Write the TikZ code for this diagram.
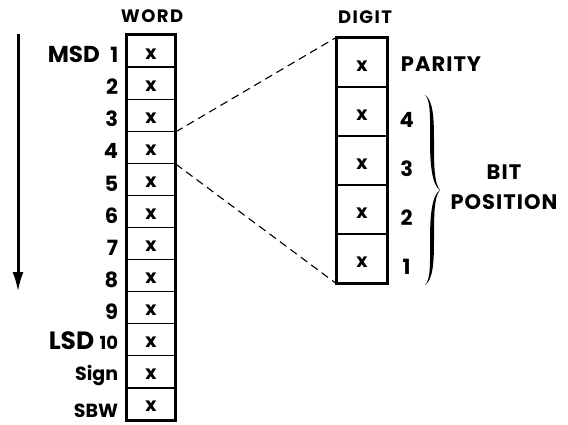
\documentclass[tikz,border=0pt]{standalone}
\usepackage{fontspec}
\setmainfont{Poppins}
\usetikzlibrary{arrows.meta}
\newcommand{\spaced}[1]{\addfontfeature{LetterSpace=#1}}
\newcommand{\cellmark}[1]{\raisebox{#1}[0pt][0pt]{x}}
\tikzset{
  head/.style={inner sep=0pt, font=\bfseries\fontsize{18}{20}\selectfont\spaced{8}},
  lbl/.style={inner sep=0pt, font=\bfseries\fontsize{21}{24}\selectfont\spaced{5}},
  numlbl/.style={inner sep=0pt, font=\bfseries\fontsize{21}{24}\selectfont},
  biglbl/.style={inner sep=0pt, font=\bfseries\fontsize{23}{26}\selectfont},
  lsdlbl/.style={inner sep=0pt, font=\bfseries\fontsize{25}{28}\selectfont},
  smalllbl/.style={inner sep=0pt, font=\bfseries\fontsize{19}{21}\selectfont},
  tenlbl/.style={inner sep=0pt, font=\bfseries\fontsize{18}{20}\selectfont},
  wcell/.style={draw, line width=1.3pt, minimum width=48pt, minimum height=32.08pt,
    inner sep=0pt, font=\bfseries\fontsize{19}{20}\selectfont},
  dcell/.style={draw, line width=1.3pt, minimum width=50pt, minimum height=49pt,
    inner sep=0pt, font=\bfseries\fontsize{19}{20}\selectfont},
  frame/.style={draw, line width=2pt},
  zoomline/.style={dashed, dash pattern=on 8pt off 5pt, line width=1.1pt},
}
\begin{document}
\begin{tikzpicture}[x=1pt,y=-1pt]
\useasboundingbox (0,0) rectangle (568,424);

% word column: twelve cells
\foreach \i in {1,...,12} {
  \node[wcell] (w\i) at (151, {35+32.08*(\i-0.5)}) {\cellmark{-8pt}};
}
\draw[frame] (w1.north west) rectangle (w12.south east);

% digit column: five cells
\foreach \i in {1,...,5} {
  \node[dcell] (d\i) at (362, {38+49*(\i-0.5)}) {\cellmark{-9pt}};
}
\draw[frame] (d1.north west) rectangle (d5.south east);

% headings
\node[head] (word) at (152,16) {WORD};
\node[head] (digit) at (365,17) {DIGIT};

% row numbers of the word (set a little below the row centres)
\foreach \i in {1,...,9} {
  \node[numlbl, anchor=east] (n\i) at ([xshift=-8pt,yshift=-4pt]w\i.west) {\i};
}
\node[tenlbl, anchor=east] (n10) at ([xshift=-8pt,yshift=-3pt]w10.west) {10};
\node[lsdlbl, anchor=east] (lsd) at ([xshift=-5pt,yshift=2pt]n10.west) {LSD};
\node[biglbl, anchor=east] (msd) at ([xshift=-10pt,yshift=1pt]n1.west) {MSD};
\node[smalllbl, anchor=east] (sign) at ([xshift=-8pt,yshift=-4pt]w11.west) {Sign};
\node[smalllbl, anchor=east] (sbw) at ([xshift=-8pt,yshift=-7pt]w12.west) {SBW};

% digit labels
\node[lbl, anchor=west] (parity) at ([xshift=13pt,yshift=-2pt]d1.east) {PARITY};
\foreach \i/\b in {2/4,3/3,4/2,5/1} {
  \node[numlbl] (b\b) at ([xshift=19pt,yshift=-8pt]d\i.east) {\b};
}

% calligraphic brace: thick in the middle of each arm, thin at the ends
\fill
  (425,95) .. controls (431,100) and (430,120) .. (430,140)
           .. controls (430,165) and (432,185) .. (440,190)
           .. controls (432,195) and (430,215) .. (430,240)
           .. controls (430,260) and (431,280) .. (425,285)
           .. controls (433,280) and (434,262) .. (434,240)
           .. controls (434,215) and (434,197) .. (440,190)
           .. controls (434,183) and (434,165) .. (434,140)
           .. controls (434,118) and (433,100) .. (425,95) -- cycle;
\node[lbl, align=center] (bitpos) at (504,187) {BIT\\[6pt]POSITION};

% expansion of one digit
\draw[zoomline] (w3.south east) -- (d1.north west);
\draw[zoomline] (w4.south east) -- (d5.south west);

% significance arrow
\coordinate (atop) at (18,34);
\coordinate (abot) at (18,292);
\draw[line width=3pt, -{Latex[length=20pt,width=11pt]}] (atop) -- (abot);
\end{tikzpicture}
\end{document}
